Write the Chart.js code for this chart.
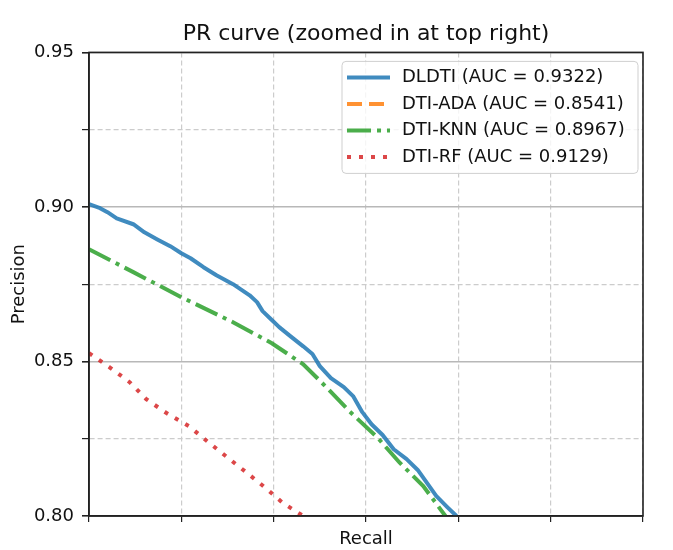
<!DOCTYPE html>
<html>
<head>
<meta charset="utf-8">
<style>
  body { margin: 0; background: #fff; }
</style>
</head>
<body>
<canvas id="prChart" width="673" height="550"></canvas>

<script src="https://cdn.jsdelivr.net/npm/chart.js"></script>

<script>
  // values; recall axis has no labels, 0.70..1.00 assumed
  const dldtiRecall = [0.700, 0.706, 0.710, 0.715, 0.724, 0.730, 0.737, 0.744, 0.750, 0.755, 0.762, 0.769, 0.778, 0.787, 0.791, 0.794, 0.798, 0.803, 0.809, 0.816, 0.821, 0.825, 0.831, 0.838, 0.843, 0.848, 0.853, 0.859, 0.865, 0.872, 0.878, 0.883, 0.888, 0.894, 0.899];
  const dldtiPrecision = [0.9009, 0.8996, 0.8983, 0.8963, 0.8944, 0.8918, 0.8895, 0.8873, 0.8850, 0.8834, 0.8805, 0.8779, 0.8750, 0.8714, 0.8692, 0.8663, 0.8640, 0.8611, 0.8582, 0.8549, 0.8524, 0.8485, 0.8446, 0.8417, 0.8388, 0.8336, 0.8297, 0.8262, 0.8216, 0.8184, 0.8149, 0.8107, 0.8065, 0.8029, 0.8000];

  // DTI-ADA stays below the zoomed window, nothing of it is visible
  const adaRecall = [];
  const adaPrecision = [];

  const knnRecall = [0.700, 0.724, 0.750, 0.778, 0.799, 0.816, 0.829, 0.841, 0.856, 0.868, 0.881, 0.893];
  const knnPrecision = [0.8863, 0.8789, 0.8708, 0.8627, 0.8559, 0.8491, 0.8414, 0.8339, 0.8255, 0.8174, 0.8097, 0.8000];

  const rfRecall = [0.700, 0.711, 0.722, 0.731, 0.742, 0.754, 0.764, 0.774, 0.785, 0.795, 0.805, 0.816];
  const rfPrecision = [0.8527, 0.8482, 0.8433, 0.8378, 0.8333, 0.8291, 0.8242, 0.8194, 0.8142, 0.8094, 0.8042, 0.8000];

  const seriesLabels = ['DLDTI (AUC = 0.9322)', 'DTI-ADA (AUC = 0.8541)', 'DTI-KNN (AUC = 0.8967)', 'DTI-RF (AUC = 0.9129)'];
  const yLabelTicks = [0.80, 0.85, 0.90, 0.95];

  const FONT = '"DejaVu Sans", "Liberation Sans", sans-serif';

  const toPoints = (xs, ys) => xs.map((x, i) => ({x: x, y: ys[i]}));
  const isMajor = (v) => yLabelTicks.some(t => Math.abs(t - v) < 1e-6);

  // full black frame round the plot, like matplotlib spines
  const frame = {
    id: 'frame',
    afterDatasetsDraw(chart) {
      const {ctx, chartArea: a} = chart;
      ctx.save();
      ctx.strokeStyle = '#222';
      ctx.lineWidth = 1.6;
      ctx.strokeRect(a.left, a.top, a.right - a.left, a.bottom - a.top);
      ctx.restore();
    }
  };

  // legend box inside the top right of the plot
  const legendBox = {
    id: 'legendBox',
    afterDraw(chart) {
      const {ctx, chartArea} = chart;
      const w = 296, h = 112;
      const x0 = chartArea.right - 5 - w;
      const y0 = chartArea.top + 9;
      ctx.save();
      ctx.beginPath();
      ctx.roundRect(x0, y0, w, h, 4);
      ctx.fillStyle = 'rgba(255,255,255,0.8)';
      ctx.fill();
      ctx.strokeStyle = '#cfcfcf';
      ctx.lineWidth = 1;
      ctx.stroke();
      ctx.font = '18px ' + FONT;
      ctx.textBaseline = 'middle';
      chart.data.datasets.forEach((ds, i) => {
        const y = y0 + 16 + i * 26.5;
        ctx.beginPath();
        ctx.setLineDash(ds.borderDash || []);
        ctx.lineWidth = ds.borderWidth;
        ctx.strokeStyle = ds.borderColor;
        ctx.moveTo(x0 + 5, y);
        ctx.lineTo(x0 + 48, y);
        ctx.stroke();
        ctx.setLineDash([]);
        ctx.fillStyle = '#111';
        ctx.fillText(ds.label, x0 + 60, y);
      });
      ctx.restore();
    }
  };

  const ctx = document.getElementById('prChart');

  new Chart(ctx, {
    type: 'line',
    data: {
      datasets: [
        {
          label: seriesLabels[0],
          data: toPoints(dldtiRecall, dldtiPrecision),
          borderColor: 'rgba(31,119,180,0.85)',
          borderWidth: 4,
          borderJoinStyle: 'round'
        },
        {
          label: seriesLabels[1],
          data: toPoints(adaRecall, adaPrecision),
          borderColor: 'rgba(255,127,14,0.85)',
          borderWidth: 4,
          borderDash: [15, 7]
        },
        {
          label: seriesLabels[2],
          data: toPoints(knnRecall, knnPrecision),
          borderColor: 'rgba(44,160,44,0.85)',
          borderWidth: 4,
          borderDash: [24, 6, 4, 6]
        },
        {
          label: seriesLabels[3],
          data: toPoints(rfRecall, rfPrecision),
          borderColor: 'rgba(214,39,40,0.85)',
          borderWidth: 4,
          borderDash: [4, 8]
        }
      ]
    },
    options: {
      responsive: false,
      animation: false,
      elements: { point: { radius: 0 }, line: { tension: 0, fill: false } },
      layout: { padding: { left: 0, right: 30, top: 0, bottom: 0 } },
      plugins: {
        legend: { display: false },
        tooltip: { enabled: false },
        title: {
          display: true,
          text: 'PR curve (zoomed in at top right)',
          fullSize: false,
          color: '#111',
          font: { family: FONT, size: 22, weight: 'normal', lineHeight: 1.2 },
          padding: { top: 21, bottom: 5 }
        }
      },
      scales: {
        x: {
          type: 'linear',
          min: 0.70,
          max: 1.00,
          ticks: { stepSize: 0.05, display: false },
          grid: {
            color: '#cccccc',
            lineWidth: 1.2,
            tickColor: '#222',
            tickLength: 6
          },
          border: { display: true, color: '#222', width: 1.6, dash: (c) => c.tick ? [5, 3] : [] },
          title: {
            display: true,
            text: 'Recall',
            color: '#111',
            font: { family: FONT, size: 18, lineHeight: 1.2 },
            padding: { top: 0, bottom: 0 }
          },
          afterFit: (scale) => { scale.height = 34; }
        },
        y: {
          min: 0.80,
          max: 0.95,
          ticks: {
            stepSize: 0.025,
            color: '#111',
            padding: 8,
            font: { family: FONT, size: 18 },
            callback: (v) => isMajor(v) ? v.toFixed(2) : ''
          },
          grid: {
            color: (c) => c.tick && isMajor(c.tick.value) ? '#b8b8b8' : '#cccccc',
            lineWidth: (c) => c.tick && isMajor(c.tick.value) ? 1.6 : 1.2,
            tickColor: '#222',
            tickLength: 7
          },
          border: {
            display: true,
            color: '#222',
            width: 1.6,
            dash: (c) => c.tick && !isMajor(c.tick.value) ? [5, 3] : []
          },
          title: {
            display: true,
            text: 'Precision',
            color: '#111',
            font: { family: FONT, size: 18, lineHeight: 1.2 },
            padding: { top: 9, bottom: 0 }
          },
          afterFit: (scale) => { scale.width = 89; }
        }
      }
    },
    plugins: [frame, legendBox]
  });
</script>
</body>
</html>
